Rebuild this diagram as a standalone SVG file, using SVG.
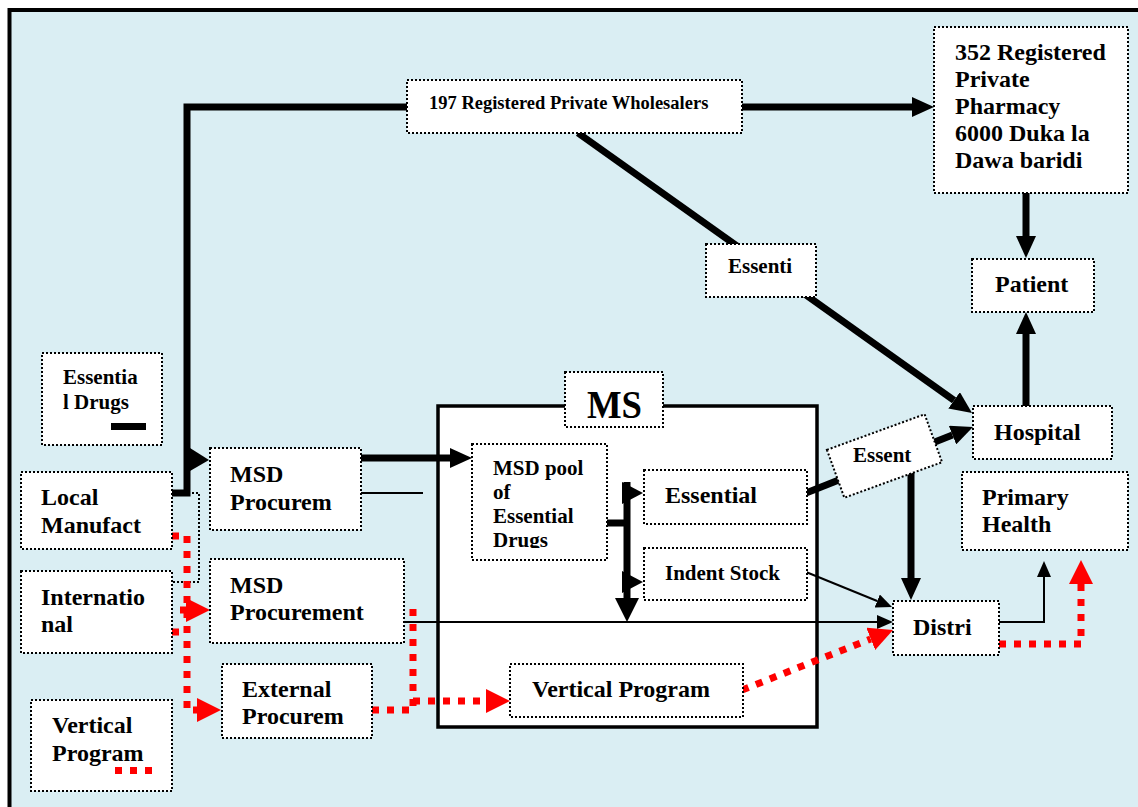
<svg xmlns="http://www.w3.org/2000/svg" width="1138" height="807" viewBox="0 0 1138 807">
<style>
.bx{fill:#fff;stroke:#000;stroke-width:2;stroke-dasharray:2 2}
.t{font-family:"Liberation Serif","Times New Roman",serif;font-weight:bold;fill:#000}
.s24{font-size:24px}
.s21{font-size:21px}
.thick{fill:none;stroke:#000;stroke-width:7}
.thin{fill:none;stroke:#000;stroke-width:2}
.red{fill:none;stroke:#f00;stroke-width:7;stroke-dasharray:7 8}
</style>
<defs>
<marker id="ab" viewBox="0 0 22 20" refX="0" refY="10" markerWidth="22" markerHeight="20" markerUnits="userSpaceOnUse" orient="auto"><path d="M0,0L22,10L0,20z" fill="#000"/></marker>
<marker id="at" viewBox="0 0 16 14" refX="0" refY="7" markerWidth="16" markerHeight="14" markerUnits="userSpaceOnUse" orient="auto"><path d="M0,0L16,7L0,14z" fill="#000"/></marker>
<marker id="ar" viewBox="0 0 24 24" refX="0" refY="12" markerWidth="24" markerHeight="24" markerUnits="userSpaceOnUse" orient="auto"><path d="M0,0L24,12L0,24z" fill="#f00"/></marker>
<clipPath id="cpool"><rect x="472" y="444" width="135" height="104"/></clipPath>
<clipPath id="cms"><rect x="565" y="372" width="98" height="55"/></clipPath>
</defs>
<rect x="0" y="0" width="1138" height="807" fill="#fff"/>
<rect x="9.5" y="10" width="1140" height="820" fill="#DAEEF3" stroke="#000" stroke-width="4"/>

<g id="ms-container">
<rect x="438" y="406" width="379" height="321" fill="#fff" stroke="#000" stroke-width="3.5"/>
</g>

<g id="connectors">
<path class="thick" d="M172,493H187V107H407"/>
<polygon points="190,448 209,460 190,471" fill="#000"/>
<path class="thick" d="M742,107H912" marker-end="url(#ab)"/>
<path class="thick" d="M578,133L954.1,400.3" marker-end="url(#ab)"/>
<path class="thick" d="M1026,193V236" marker-end="url(#ab)"/>
<path class="thick" d="M1026,406V334" marker-end="url(#ab)"/>
<path class="thick" d="M360,458H450" marker-end="url(#ab)"/>
<path class="thin" d="M360,493H423"/>
<path fill="none" stroke="#000" stroke-width="2" stroke-dasharray="2 2" d="M172,493H199V582H172"/>
<path class="thick" stroke-width="6" d="M606,523H627"/>
<path class="thick" d="M627,482V599"/>
<polygon points="615,598 639,598 627,622" fill="#000"/>
<polygon points="622,482 643,493 622,504" fill="#000"/>
<polygon points="622,571 643,582 622,593" fill="#000"/>
<path class="thick" d="M806,493L952.5,435.1" marker-end="url(#ab)"/>
<path class="thick" d="M911,468V578" marker-end="url(#ab)"/>
<path class="thin" d="M403,622H877" marker-end="url(#at)"/>
<path class="thin" d="M806,572L877.2,601" marker-end="url(#at)"/>
<path class="thin" d="M999,622H1044V577" marker-end="url(#at)"/>
<path class="red" d="M172,536H187V710H197" marker-end="url(#ar)"/>
<path class="red" d="M180,610H186" marker-end="url(#ar)"/>
<path class="red" d="M172,632H187"/>
<path class="red" d="M372,710H413V603"/>
<path class="red" d="M413,701H486" marker-end="url(#ar)"/>
<path class="red" d="M742,690L870.7,638.9" marker-end="url(#ar)"/>
<path class="red" d="M999,644H1081V584" marker-end="url(#ar)"/>
</g>

<g id="wholesalers">
<rect class="bx" x="407" y="80" width="335" height="53"/>
<text class="t" x="429" y="109" font-size="18.5px">197 Registered Private Wholesalers</text>
</g>
<g id="pharmacy">
<rect class="bx" x="934" y="27" width="194" height="166"/>
<text class="t s24" x="955" y="60">352 Registered</text>
<text class="t s24" x="955" y="87">Private</text>
<text class="t s24" x="955" y="114">Pharmacy</text>
<text class="t s24" x="955" y="141">6000 Duka la</text>
<text class="t s24" x="955" y="168">Dawa baridi</text>
</g>
<g id="patient">
<rect class="bx" x="972" y="259" width="122" height="53"/>
<text class="t s24" x="995" y="292">Patient</text>
</g>
<g id="essenti-label">
<rect class="bx" x="706" y="244" width="110" height="53"/>
<text class="t" x="728" y="273" font-size="21px">Essenti</text>
</g>
<g id="legend-essential">
<rect class="bx" x="42" y="353" width="120" height="92"/>
<text class="t s21" x="63" y="384">Essentia</text>
<text class="t s21" x="63" y="409">l Drugs</text>
<rect x="111" y="423" width="35" height="7" fill="#000"/>
</g>
<g id="local-manufact">
<rect class="bx" x="21" y="472" width="151" height="77"/>
<text class="t s24" x="41" y="505">Local</text>
<text class="t s24" x="41" y="533">Manufact</text>
</g>
<g id="international">
<rect class="bx" x="21" y="571" width="151" height="82"/>
<text class="t s24" x="41" y="605">Internatio</text>
<text class="t s24" x="41" y="632">nal</text>
</g>
<g id="vertical-legend">
<rect class="bx" x="31" y="700" width="141" height="91"/>
<text class="t s24" x="52" y="733">Vertical</text>
<text class="t s24" x="52" y="761">Program</text>
<path class="red" d="M115,770.5H155"/>
</g>
<g id="msd-procurem">
<rect class="bx" x="210" y="448" width="151" height="82"/>
<text class="t s24" x="230" y="482">MSD</text>
<text class="t s24" x="230" y="510">Procurem</text>
</g>
<g id="msd-procurement">
<rect class="bx" x="210" y="559" width="194" height="84"/>
<text class="t s24" x="230" y="593">MSD</text>
<text class="t s24" x="230" y="620">Procurement</text>
</g>
<g id="external-procurem">
<rect class="bx" x="222" y="664" width="150" height="74"/>
<text class="t s24" x="242" y="697">External</text>
<text class="t s24" x="242" y="724">Procurem</text>
</g>
<g id="ms-label">
<rect class="bx" x="565" y="372" width="98" height="55"/>
<text class="t" x="587" y="418" font-size="40px" textLength="55" lengthAdjust="spacingAndGlyphs" clip-path="url(#cms)">MS</text>
</g>
<g id="msd-pool">
<rect class="bx" x="472" y="444" width="135" height="116"/>
<g clip-path="url(#cpool)">
<text class="t s21" x="493" y="475">MSD pool</text>
<text class="t s21" x="493" y="499">of</text>
<text class="t s21" x="493" y="523">Essential</text>
<text class="t s21" x="493" y="547">Drugs</text>
</g>
</g>
<g id="essential">
<rect class="bx" x="644" y="470" width="163" height="54"/>
<text class="t s24" x="665" y="503">Essential</text>
</g>
<g id="indent-stock">
<rect class="bx" x="644" y="548" width="163" height="52"/>
<text class="t s21" x="665" y="580">Indent Stock</text>
</g>
<g id="vertical-program">
<rect class="bx" x="510" y="664" width="233" height="53"/>
<text class="t s24" x="532" y="697">Vertical Program</text>
</g>
<g id="essent-rotated">
<rect class="bx" x="-52" y="-25.5" width="104" height="51" transform="translate(884.5,456) rotate(-20)"/>
<text class="t s21" x="853" y="462">Essent</text>
</g>
<g id="hospital">
<rect class="bx" x="973" y="406" width="139" height="53"/>
<text class="t s24" x="994" y="440">Hospital</text>
</g>
<g id="primary-health">
<rect class="bx" x="962" y="472" width="166" height="78"/>
<text class="t s24" x="982" y="505">Primary</text>
<text class="t s24" x="982" y="532">Health</text>
</g>
<g id="distri">
<rect class="bx" x="893" y="601" width="106" height="54"/>
<text class="t s24" x="913" y="635">Distri</text>
</g>
</svg>
